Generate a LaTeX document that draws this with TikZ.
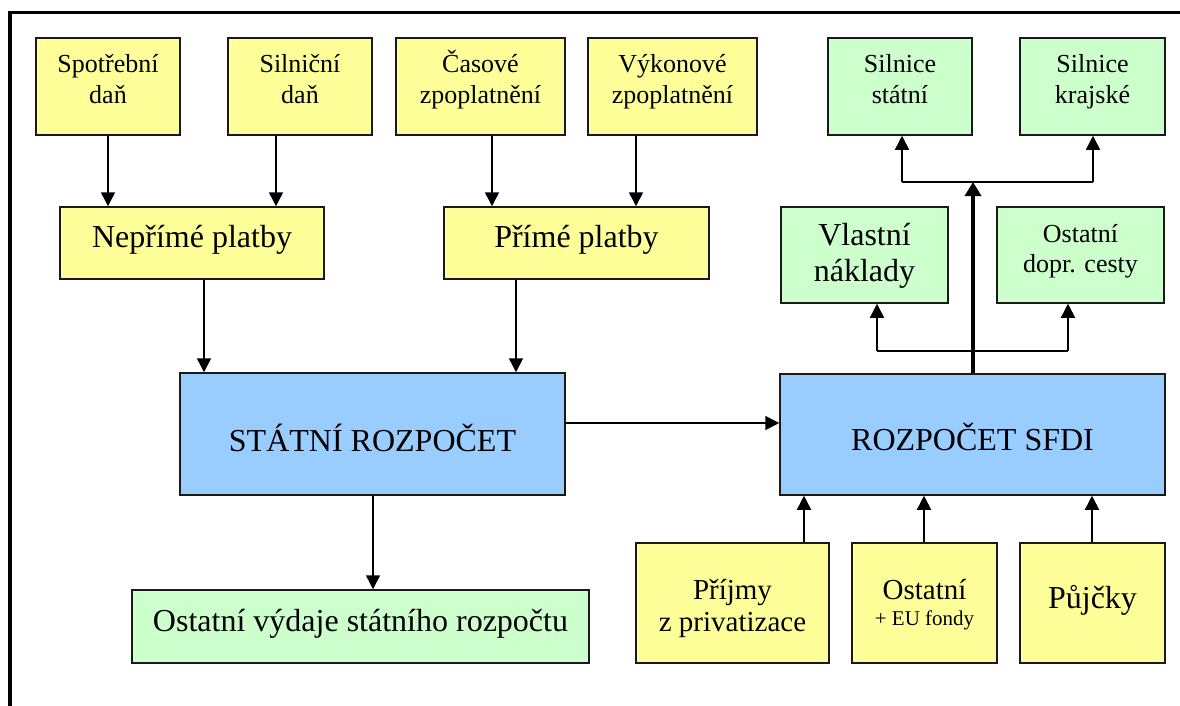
\documentclass[tikz,border=0pt]{standalone}
\usepackage{fontspec}
\setmainfont{Liberation Serif}
\usetikzlibrary{arrows.meta}
\definecolor{boxyellow}{HTML}{FFFF99}
\definecolor{boxgreen}{HTML}{CCFFCC}
\definecolor{boxblue}{HTML}{99CCFF}
\definecolor{edgecol}{HTML}{1A1A1A}
\newcommand{\twolines}[2]{\begin{tabular}[t]{@{}c@{}}#1\\#2\end{tabular}}
\tikzset{
  box/.style={draw=edgecol, line width=1.5pt, inner sep=0pt, anchor=center},
  ybox/.style={box, fill=boxyellow},
  gbox/.style={box, fill=boxgreen},
  bbox/.style={box, fill=boxblue},
  smalltxt/.style={font=\fontsize{26}{31}\selectfont, text height=2pt, text depth=29pt},
  bigtxt/.style={font=\fontsize{32}{36}\selectfont},
  arr/.style={line width=1.5pt, -{Triangle[width=14pt,length=14pt]}},
  thickarr/.style={line width=3.5pt, -{Triangle[width=16pt,length=14pt]}},
  conn/.style={line width=1.5pt},
  frameline/.style={line width=3.5pt},
}
\begin{document}
\begin{tikzpicture}[x=1pt,y=-1pt]
\useasboundingbox (0,0) rectangle (1180,706);
% frame
\draw[frameline] (10,706) -- (10,12.5) -- (1180,12.5);
% top row
\node[ybox, smalltxt, minimum width=144pt, minimum height=97pt] (spot) at (108,86.5) {\twolines{Spotřební}{daň}};
\node[ybox, smalltxt, minimum width=144pt, minimum height=97pt] (siln) at (300,86.5) {\twolines{Silniční}{daň}};
\node[ybox, smalltxt, minimum width=169pt, minimum height=97pt] (cas) at (480.5,86.5) {\twolines{Časové}{zpoplatnění}};
\node[ybox, smalltxt, minimum width=169pt, minimum height=97pt] (vyk) at (672.5,86.5) {\twolines{Výkonové}{zpoplatnění}};
\node[gbox, smalltxt, minimum width=144pt, minimum height=97pt] (sst) at (900,86.5) {\twolines{Silnice}{státní}};
\node[gbox, smalltxt, minimum width=145pt, minimum height=97pt] (skr) at (1092.5,86.5) {\twolines{Silnice}{krajské}};
% second row
\node[ybox, bigtxt, text height=20pt, text depth=12pt, minimum width=264pt, minimum height=72pt] (nep) at (192,243) {Nepřímé platby};
\node[ybox, bigtxt, text height=20pt, text depth=12pt, minimum width=265pt, minimum height=72pt] (prime) at (576.5,243) {Přímé platby};
\node[gbox, bigtxt, text height=5pt, text depth=25pt, minimum width=167pt, minimum height=96pt] (vlas) at (864.5,255) {\twolines{Vlastní}{náklady}};
\node[gbox, font=\fontsize{26}{30.5}\selectfont, text height=2pt, text depth=28pt, minimum width=167pt, minimum height=96pt] (odc) at (1080.5,255) {\twolines{Ostatní}{dopr. cesty}};
% budgets
\node[bbox, bigtxt, text height=40pt, text depth=4.5pt, minimum width=385pt, minimum height=122pt] (stat) at (372.5,434) {STÁTNÍ ROZPOČET};
\node[bbox, bigtxt, text height=38pt, text depth=6pt, minimum width=385pt, minimum height=121pt] (sfdi) at (972.5,434.5) {ROZPOČET SFDI};
% bottom row
\node[gbox, bigtxt, text height=20pt, text depth=10pt, minimum width=457pt, minimum height=73pt] (ovy) at (360.5,626.5) {Ostatní výdaje státního rozpočtu};
\node[ybox, font=\fontsize{29}{32.5}\selectfont, text height=10pt, text depth=18pt, minimum width=193pt, minimum height=120pt] (prij) at (732.5,603) {\twolines{Příjmy}{z privatizace}};
\node[ybox, font=\fontsize{29}{26}\selectfont, text height=10pt, text depth=18pt, minimum width=145pt, minimum height=120pt] (oeu) at (924.5,603) {\twolines{Ostatní}{\fontsize{21}{26}\selectfont + EU fondy}};
\node[ybox, bigtxt, text height=20pt, text depth=10pt, minimum width=145pt, minimum height=120pt] (puj) at (1092.5,603) {Půjčky};
% connectors: top row to second row
\draw[arr] (spot.south) -- (spot.south |- nep.north);
\draw[arr] ([xshift=-24pt]siln.south) -- ([xshift=-24pt]siln.south |- nep.north);
\draw[arr] ([xshift=11.5pt]cas.south) -- ([xshift=11.5pt]cas.south |- prime.north);
\draw[arr] ([xshift=-36.5pt]vyk.south) -- ([xshift=-36.5pt]vyk.south |- prime.north);
% second row to state budget
\draw[arr] ([xshift=12pt]nep.south) -- ([xshift=12pt]nep.south |- stat.north);
\draw[arr] ([xshift=-60.5pt]prime.south) -- ([xshift=-60.5pt]prime.south |- stat.north);
% state budget
\draw[arr] ([xshift=0.5pt]stat.south) -- ([xshift=0.5pt]stat.south |- ovy.north);
\coordinate (hflow) at (565,423);
\draw[arr] (hflow) -- (hflow -| sfdi.west);
% SFDI incoming
\draw[arr] ([xshift=71.5pt]prij.north) -- ([xshift=71.5pt]prij.north |- sfdi.south);
\draw[arr] ([xshift=-0.5pt]oeu.north) -- ([xshift=-0.5pt]oeu.north |- sfdi.south);
\draw[arr] ([xshift=-0.5pt]puj.north) -- ([xshift=-0.5pt]puj.north |- sfdi.south);
% SFDI outgoing tree
\coordinate (uptop) at (973,182);
\coordinate (upL) at (902,182);
\coordinate (upR) at (1093,182);
\coordinate (lowL) at (877,351);
\coordinate (lowR) at (1068,351);
\draw[thickarr] (sfdi.north -| uptop) -- (uptop);
\draw[conn] (upL) -- (upR);
\draw[arr] (upL) -- (upL |- sst.south);
\draw[arr] (upR) -- (upR |- skr.south);
\draw[conn] (lowL) -- (lowR);
\draw[arr] (lowL) -- (lowL |- vlas.south);
\draw[arr] (lowR) -- (lowR |- odc.south);
\end{tikzpicture}
\end{document}
